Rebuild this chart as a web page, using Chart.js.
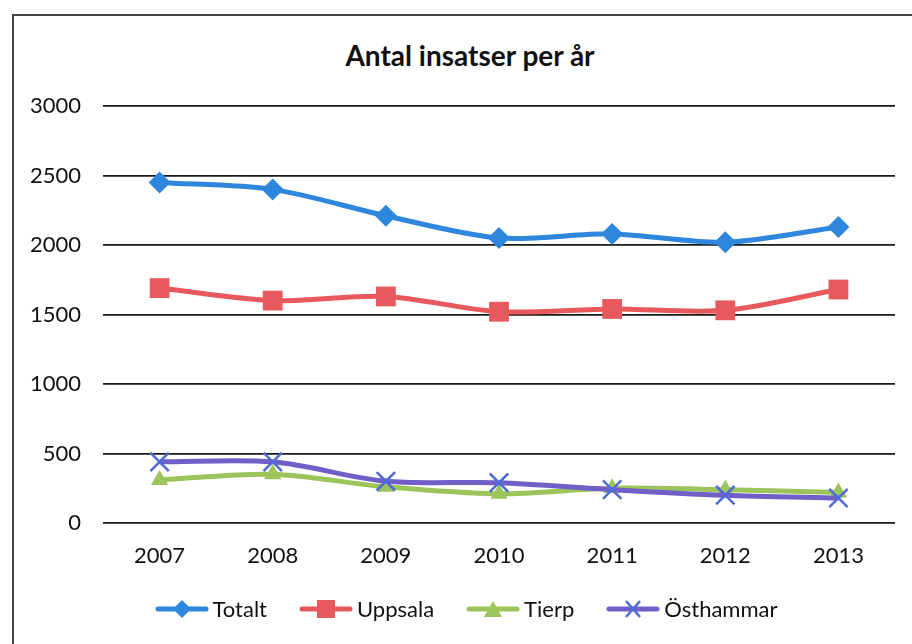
<!DOCTYPE html>
<html>
<head>
<meta charset="utf-8">
<script src="https://cdn.jsdelivr.net/npm/chart.js@4"></script>
<style>
  body { margin: 0; background: #fff; }
  #wrap { position: relative; width: 912px; height: 644px; overflow: hidden; font-family: Lato, "Open Sans", sans-serif; }
  #frame { position: absolute; left: 12px; top: 14px; width: 920px; height: 660px; border-top: 2px solid #444; border-left: 2px solid #444; }
  #title { position: absolute; left: 13px; width: 914px; top: 40px; text-align: center; font-weight: bold; font-size: 28px; color: #111; line-height: 30px; }
  #legend { position: absolute; left: 0; width: 932px; top: 595px; display: flex; justify-content: center; gap: 32px; font-size: 22px; color: #111; }
  .item { display: flex; align-items: center; }
  .item svg { margin-right: 4px; }
  canvas { position: absolute; left: 0; top: 0; }
</style>
</head>
<body>
<div id="wrap">
  <div id="frame"></div>
  <div id="title">Antal insatser per år</div>
  <canvas id="myChart" width="912" height="644"></canvas>
  <div id="legend"></div>
</div>
<script>
// DATA
const years = ["2007", "2008", "2009", "2010", "2011", "2012", "2013"];
const totalt = [2450, 2400, 2210, 2050, 2080, 2020, 2130];
const uppsala = [1690, 1600, 1630, 1520, 1540, 1530, 1680];
const tierp = [310, 350, 260, 210, 250, 240, 220];
const osthammar = [440, 440, 300, 290, 240, 200, 180];
const yTicks = [0, 500, 1000, 1500, 2000, 2500, 3000];

const series = [
    { label: "Totalt", data: totalt, color: "#2f87dd", marker: "#2f87dd", style: "rectRot", r: 11 },
    { label: "Uppsala", data: uppsala, color: "#e8595e", marker: "#e8595e", style: "rect", r: 14 },
    { label: "Tierp", data: tierp, color: "#9cc45b", marker: "#9cc45b", style: "triangle", r: 10 },
    { label: "Östhammar", data: osthammar, color: "#6f5fc6", marker: "#4f6bd8", style: "crossRot", r: 13 }
];

const datasets = series.map((s, i) => ({
    label: s.label,
    data: s.data,
    borderColor: s.color,
    backgroundColor: s.marker,
    pointBackgroundColor: s.marker,
    pointBorderColor: s.marker,
    pointBorderWidth: s.style === "crossRot" ? 2.5 : 0,
    pointStyle: s.style,
    pointRadius: s.r,
    borderWidth: 5,
    tension: 0.3,
    order: 3 - i
}));

const config = {
    type: "line",
    data: { labels: years, datasets: datasets },
    options: {
        responsive: false,
        animation: false,
        layout: { padding: { top: 106, right: 17, left: 0, bottom: 0 } },
        plugins: {
            legend: { display: false },
            title: { display: false },
            tooltip: { enabled: false }
        },
        scales: {
            x: {
                offset: true,
                grid: { display: false, drawTicks: false },
                border: { display: false },
                ticks: { padding: 20, color: "#111", font: { family: "Lato", size: 22 } },
                afterFit: (scale) => { scale.height = 121; }
            },
            y: {
                min: 0,
                max: 3000,
                afterBuildTicks: (scale) => { scale.ticks = yTicks.map(v => ({ value: v })); },
                grid: { color: "#1a1a1a", lineWidth: 1.8, drawTicks: false },
                border: { display: false },
                ticks: {
                    padding: 22, color: "#111", font: { family: "Lato", size: 22 },
                    callback: (v) => String(v)
                },
                afterFit: (scale) => { scale.width = 103; }
            }
        }
    }
};

var myChart = new Chart(document.querySelector("#myChart"), config);

// LEGEND (line + marker like the original)
const legend = document.querySelector("#legend");
const markerSvg = (s) => {
    const c = s.marker;
    let m = "";
    if (s.style === "rectRot") m = `<polygon points="27,2 36,11 27,20 18,11" fill="${c}"/>`;
    if (s.style === "rect") m = `<rect x="18" y="2" width="18" height="18" fill="${c}"/>`;
    if (s.style === "triangle") m = `<polygon points="27,3 36,19 18,19" fill="${c}"/>`;
    if (s.style === "crossRot") m = `<path d="M20,3 L34,19 M34,3 L20,19" stroke="${c}" stroke-width="2.5"/>`;
    return `<svg width="54" height="22"><line x1="3" y1="11" x2="51" y2="11" stroke="${s.color}" stroke-width="5" stroke-linecap="round"/>${m}</svg>`;
};
series.forEach((s) => {
    const el = document.createElement("div");
    el.className = "item";
    el.innerHTML = markerSvg(s) + `<span>${s.label}</span>`;
    legend.appendChild(el);
});
</script>
</body>
</html>
